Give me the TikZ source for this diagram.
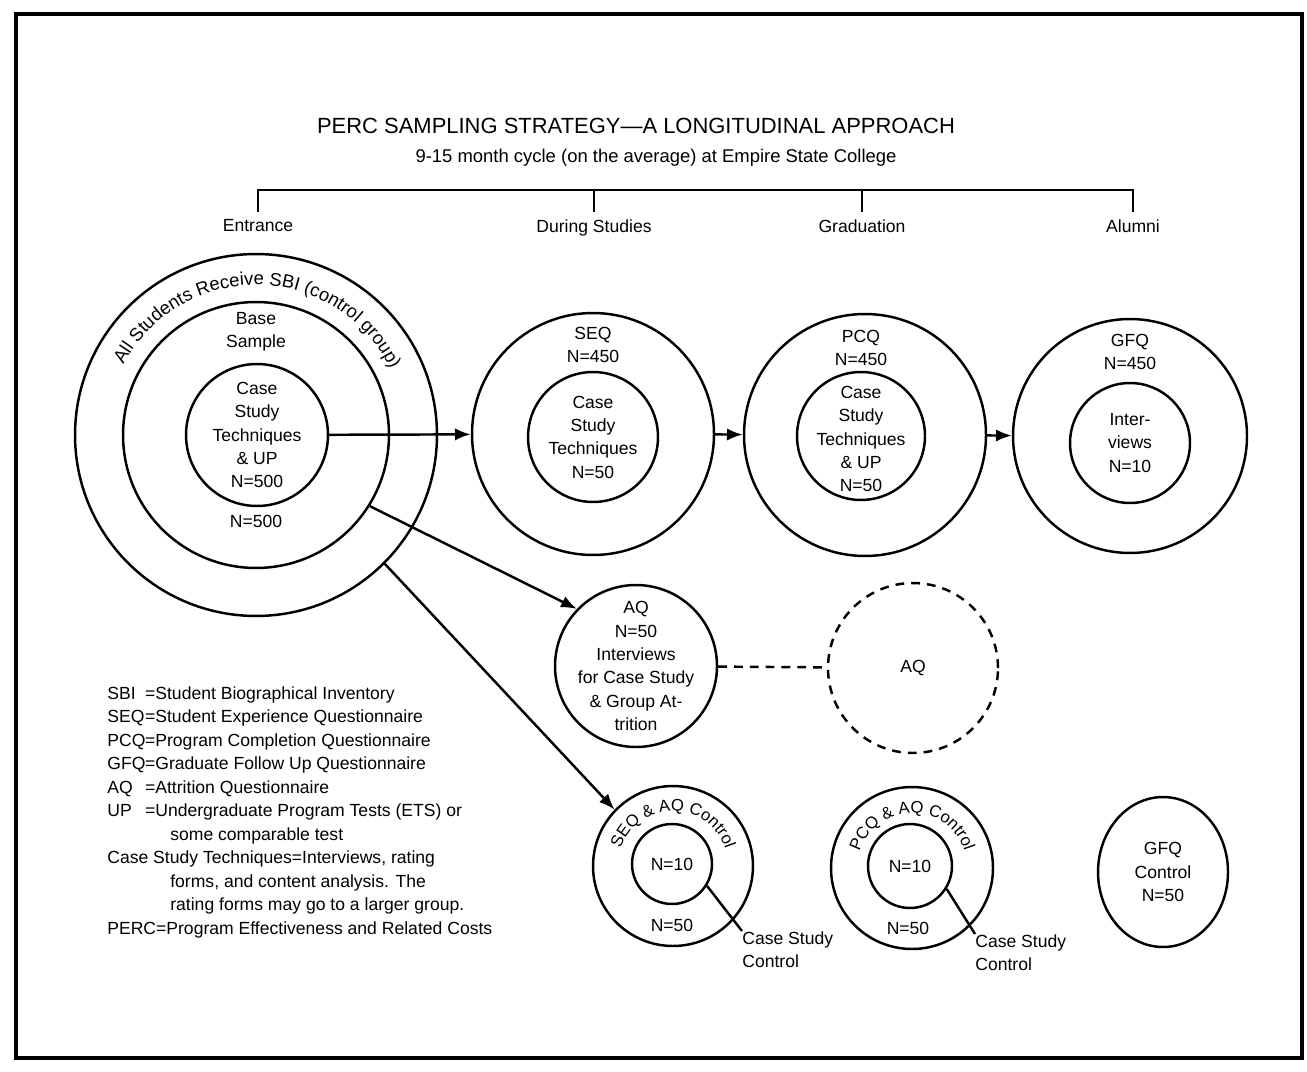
\documentclass[tikz,border=0pt]{standalone}
\usepackage{fontspec}
\setmainfont{Liberation Sans}
\usetikzlibrary{arrows.meta, positioning, shapes.geometric, decorations.text}

\newcommand{\legkey}[1]{\makebox[2.15em][l]{#1}}
\newcommand{\legindent}{\hspace*{1.26cm}}

\begin{document}
\begin{tikzpicture}[x=0.02cm, y=-0.02cm,
    ring/.style={circle, draw, line width=1.4pt, inner sep=0pt},
    txt/.style={align=center, font=\fontsize{10}{13.3}\selectfont, inner sep=0pt},
    arrow/.style={draw, -{Latex[length=9pt, width=7pt]}, line width=1.4pt},
    leader/.style={draw, line width=1.4pt}
]
\useasboundingbox (0,0) rectangle (1307,1071);
\draw[line width=2.4pt] (16,14) rectangle (1302,1058);

% Title
\node[font=\fontsize{12.5}{15}\selectfont] (title) at (636,126) {PERC SAMPLING STRATEGY—A LONGITUDINAL APPROACH};
\node[font=\fontsize{10.5}{13}\selectfont] (subtitle) at (656,158) {9-15 month cycle (on the average) at Empire State College};

% Time line
\coordinate (tl-ent) at (258,190);
\coordinate (tl-dur) at (594,190);
\coordinate (tl-grad) at (862,190);
\coordinate (tl-alum) at (1133,190);
\coordinate (tb-ent) at (258,212);
\coordinate (tb-dur) at (594,212);
\coordinate (tb-grad) at (862,212);
\coordinate (tb-alum) at (1133,212);
\draw[line width=1.4pt] (tb-ent) -- (tl-ent) -- (tl-alum) -- (tb-alum);
\draw[line width=1.4pt] (tl-dur) -- (tb-dur);
\draw[line width=1.4pt] (tl-grad) -- (tb-grad);
\node[txt, below=4pt of tb-ent] (entrance) {Entrance};
\node[txt, below=4pt of tb-dur] (during) {During Studies};
\node[txt, below=4pt of tb-grad] (graduation) {Graduation};
\node[txt, below=4pt of tb-alum] (alumni) {Alumni};

% Entrance
\node[ring, minimum size=7.24cm] (ent-out) at (256,435) {};
\node[ring, minimum size=5.32cm] (ent-base) at (256,435) {};
\node[ring, minimum size=2.84cm] (ent-in) at (257,435) {};
\node[txt] (ent-in-t) at (ent-in) {Case\\Study\\Techniques\\\& UP\\N=500};
\node[txt] (ent-base-t) at (256,332) {Base\\Sample};
\node[txt] (ent-n) at (256,521) {N=500};
\path[decorate, decoration={text along path, text align=center,
    text={|\fontsize{10.5}{12}\selectfont|All Students Receive SBI (control group)}}]
    ([shift={(158:3.0cm)}]ent-out.center) arc[start angle=158, end angle=20, radius=3.0cm];

% During studies
\node[ring, minimum size=4.84cm] (seq-out) at (593,434) {};
\node[ring, minimum size=2.6cm] (seq-in) at (593,437) {};
\node[txt] (seq-in-t) at (seq-in) {Case\\Study\\Techniques\\N=50};
\node[txt] (seq-t) at (593,345) {SEQ\\N=450};

% Graduation
\node[ring, minimum size=4.84cm] (pcq-out) at (865,435) {};
\node[ring, minimum size=2.56cm] (pcq-in) at (861,436) {};
\node[txt] (pcq-in-t) at (861,439) {Case\\Study\\Techniques\\\& UP\\N=50};
\node[txt] (pcq-t) at (861,348) {PCQ\\N=450};

% Alumni
\node[ring, minimum size=4.68cm] (gfq-out) at (1130,436) {};
\node[ring, minimum size=2.4cm] (gfq-in) at (1130,443) {};
\node[txt] (gfq-in-t) at (gfq-in) {Inter-\\views\\N=10};
\node[txt] (gfq-t) at (1130,352) {GFQ\\N=450};

\draw[arrow] (ent-in) -- (seq-out);
\draw[arrow] (seq-out) -- (pcq-out);
\draw[arrow] (pcq-out) -- (gfq-out);

% Attrition
\node[ring, minimum size=3.24cm] (aq) at (636,666) {};
\node[txt] (aq-t) at (aq) {AQ\\N=50\\Interviews\\for Case Study\\\& Group At-\\trition};
\node[ring, txt, dash pattern=on 5pt off 4pt, minimum size=3.4cm] (aq2) at (913,668) {AQ};
\draw[line width=1.4pt, dash pattern=on 5pt off 4pt] (aq) -- (aq2);

% Controls
\node[ring, minimum size=3.2cm] (sac-out) at (673,866) {};
\node[ring, minimum size=1.6cm] (sac-in) at (672,864) {};
\node[txt] (sac-in-t) at (sac-in) {N=10};
\node[txt] (sac-n) at (672,925) {N=50};
\path[decorate, decoration={text along path, text align=center,
    text={|\fontsize{9.5}{11}\selectfont|SEQ {\&} AQ Control}}]
    ([shift={(172:1.1cm)}]sac-out.center) arc[start angle=172, end angle=8, radius=1.1cm];
\node[txt, align=left, anchor=north west] (sac-lbl) at (742,931) {Case Study\\Control};
\draw[leader] (sac-in.-32) -- (sac-lbl.north west);

\node[ring, minimum size=3.24cm] (pac-out) at (912,868) {};
\node[ring, minimum size=1.68cm] (pac-in) at (910,866) {};
\node[txt] (pac-in-t) at (pac-in) {N=10};
\node[txt] (pac-n) at (908,928) {N=50};
\path[decorate, decoration={text along path, text align=center,
    text={|\fontsize{9.5}{11}\selectfont|PCQ {\&} AQ Control}}]
    ([shift={(172:1.1cm)}]pac-out.center) arc[start angle=172, end angle=8, radius=1.1cm];
\node[txt, align=left, anchor=north west] (pac-lbl) at (975,934) {Case Study\\Control};
\draw[leader] (pac-in.-32) -- (pac-lbl.north west);

\node[ellipse, draw, line width=1.4pt, txt, minimum width=2.6cm, minimum height=3.0cm] (gfq-c) at (1163,872) {GFQ\\Control\\N=50};

\draw[arrow] (ent-base.-32) -- (aq.136);
\draw[arrow] (ent-out.-45) -- (sac-out.136);

% Legend
\node[txt, align=left, anchor=north west, font=\fontsize{10}{13.4}\selectfont] (legend) at (107,686) {%
\legkey{SBI}=Student Biographical Inventory\\
\legkey{SEQ}=Student Experience Questionnaire\\
\legkey{PCQ}=Program Completion Questionnaire\\
\legkey{GFQ}=Graduate Follow Up Questionnaire\\
\legkey{AQ}=Attrition Questionnaire\\
\legkey{UP}=Undergraduate Program Tests (ETS) or\\
\legindent some comparable test\\
Case Study Techniques=Interviews, rating\\
\legindent forms, and content analysis. The\\
\legindent rating forms may go to a larger group.\\
PERC=Program Effectiveness and Related Costs};

\end{tikzpicture}
\end{document}
